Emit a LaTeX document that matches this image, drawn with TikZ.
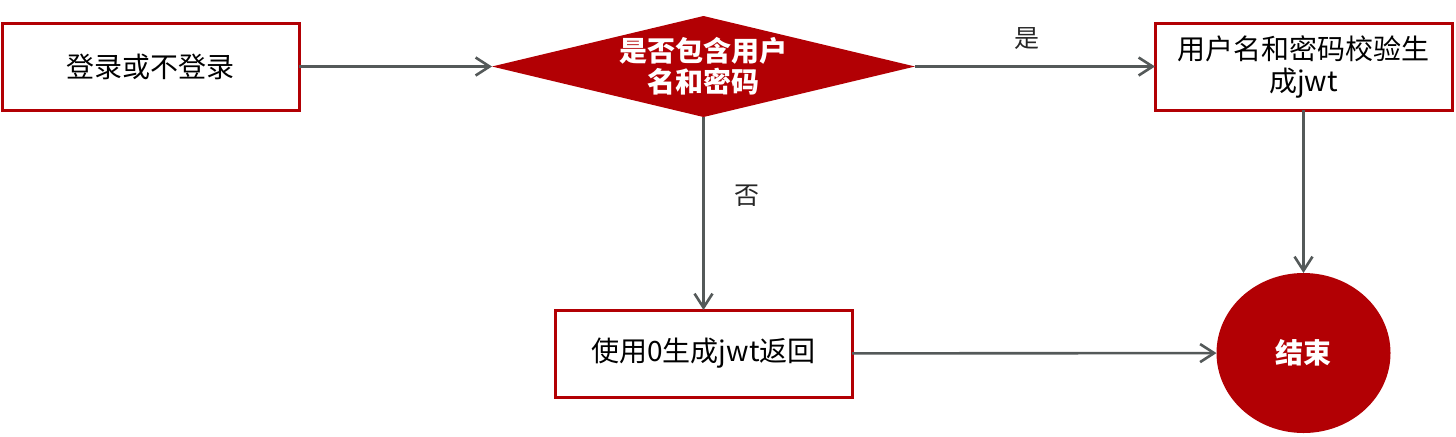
\documentclass[tikz,border=0pt]{standalone}
\usepackage{fontspec}
\setmainfont{Noto Sans CJK SC}
\usepackage{xcolor}
\usepackage{tikz}
\usetikzlibrary{arrows.meta,positioning,shapes.geometric}
\definecolor{flowred}{RGB}{178,0,4}
\definecolor{flowgray}{RGB}{84,89,89}

\begin{document}
\begin{tikzpicture}[outer sep=0pt,
  box/.style={draw=flowred,line width=1.5pt,fill=white,minimum width=148.5pt,minimum height=43.5pt,
    align=center,font=\fontsize{14pt}{16pt}\selectfont},
  decision/.style={diamond,fill=flowred,text=white,inner sep=0pt,aspect=4.19,minimum width=211.5pt,
    minimum height=50.5pt,align=center,font=\fontsize{14pt}{15.5pt}\selectfont\bfseries},
  terminal/.style={ellipse,fill=flowred,text=white,minimum width=87pt,minimum height=80pt,
    font=\fontsize{14pt}{16pt}\selectfont\bfseries},
  arrow/.style={-{Straight Barb[length=7pt,width=9pt]},line width=1.3pt,draw=flowgray},
  edgelabel/.style={font=\fontsize{12.5pt}{15pt}\selectfont,text=black!85}]
  \useasboundingbox (0,0) rectangle (728pt,-218pt);
  \node[box] (login) at (75.25pt,-33.25pt) {登录或不登录};
  \node[decision, right=96.5pt of login] (check) {是否包含用户\\名和密码};
  \node[box, right=120pt of check] (verify) {用户名和密码校验生\\成jwt};
  \node[box, below=96.5pt of check] (guest) {使用0生成jwt返回};
  \node[terminal, below=81.5pt of verify] (finish) {结束};
  \draw[arrow] (login) -- (check);
  \draw[arrow] (check) -- node[edgelabel, midway, above=5pt, xshift=-4pt] (yes) {是} (verify);
  \draw[arrow] (check) -- node[edgelabel, pos=0.41, right=12pt] (no) {否} (guest);
  \draw[arrow] (verify) -- (finish);
  \draw[arrow] (guest) -- (finish);
\end{tikzpicture}
\end{document}
